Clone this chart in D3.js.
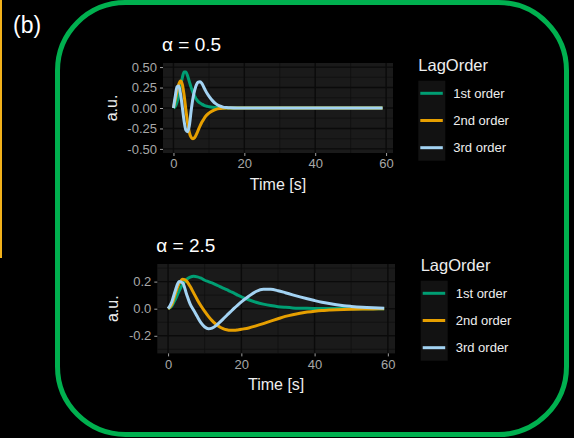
<!DOCTYPE html>
<html>
<head>
<meta charset="utf-8">
<script src="https://cdn.jsdelivr.net/npm/d3@7"></script>
<style>
  html, body { margin: 0; padding: 0; background: #000; }
  svg { display: block; }
  text { font-family: "Liberation Sans", Arial, sans-serif; }
</style>
</head>
<body>
<svg id="chart" width="574" height="438"></svg>
<script>
// ---------- DATA ----------
const seriesNames = ["1st order", "2nd order", "3rd order"];
const legendTitle = "LagOrder";
const panelTitles = ["α = 0.5", "α = 2.5"];
const xTicks = [0, 20, 40, 60];
const yTicksA = [-0.50, -0.25, 0.00, 0.25, 0.50];
const yTickLabelsA = ["-0.50", "-0.25", "0.00", "0.25", "0.50"];
const yTicksB = [-0.2, 0.0, 0.2];
const yTickLabelsB = ["-0.2", "0.0", "0.2"];

// alpha = 0.5
const timeA = [0,0.5,1,1.5,2,2.5,3,3.5,4,4.5,5,5.5,6,6.5,7,7.5,8,8.5,9,10,11,12,13,14,15,16,18,20,25,30,35,40,45,50,55,59];
const firstA = [0,0.02,0.07,0.16,0.26,0.37,0.44,0.44,0.39,0.32,0.25,0.19,0.145,0.105,0.078,0.06,0.048,0.036,0.027,0.016,0.009,0.005,0.0025,0.0012,0.0005,0.0002,0,0,0,0,0,0,0,0,0,0];
const secondA = [0,0.1,0.2,0.29,0.33,0.29,0.16,-0.02,-0.18,-0.3,-0.36,-0.375,-0.36,-0.32,-0.27,-0.22,-0.175,-0.14,-0.105,-0.063,-0.035,-0.017,-0.007,-0.003,-0.001,0,0,0,0,0,0,0,0,0,0,0];
const thirdA = [0,0.14,0.26,0.27,0.17,0.01,-0.16,-0.27,-0.29,-0.21,-0.03,0.12,0.22,0.285,0.315,0.32,0.3,0.26,0.215,0.145,0.09,0.05,0.025,0.011,0.005,0.002,0,0,0,0,0,0,0,0,0,0];

// alpha = 2.5
const timeB = [0,1,2,3,4,5,6,7,8,9,10,11,12,13,14,15,16,17,18,19,20,22,24,26,28,30,32,34,36,38,40,42,44,46,48,50,53,56,59];
const firstB = [0,0.02,0.07,0.13,0.18,0.215,0.233,0.24,0.235,0.225,0.21,0.2,0.19,0.178,0.165,0.152,0.14,0.127,0.115,0.1,0.088,0.066,0.048,0.034,0.023,0.015,0.01,0.006,0.004,0.003,0.002,0.0015,0.001,0.0008,0.0006,0.0005,0.0003,0.0002,0.0001];
const secondB = [0,0.03,0.113,0.185,0.218,0.205,0.165,0.115,0.065,0.02,-0.02,-0.057,-0.088,-0.113,-0.133,-0.147,-0.156,-0.16,-0.16,-0.157,-0.152,-0.142,-0.127,-0.11,-0.092,-0.074,-0.057,-0.044,-0.034,-0.025,-0.018,-0.013,-0.01,-0.007,-0.005,-0.004,-0.0025,-0.0015,-0.001];
const thirdB = [0,0.05,0.137,0.2,0.19,0.11,0.035,-0.012,-0.06,-0.105,-0.135,-0.148,-0.143,-0.127,-0.103,-0.077,-0.05,-0.024,0.002,0.027,0.05,0.092,0.127,0.144,0.143,0.133,0.118,0.102,0.087,0.073,0.06,0.048,0.038,0.029,0.022,0.017,0.011,0.007,0.004];

// ---------- STYLE ----------
const colors = ["#009E73", "#E69F00", "#A3D3F3"];
const FONT = '"Liberation Sans", Arial, sans-serif';

const svg = d3.select("#chart");

// left yellow rule (part of neighbouring figure)
svg.append("line").attr("x1", 1).attr("x2", 1).attr("y1", 0).attr("y2", 258)
  .attr("stroke", "#F2B21B").attr("stroke-width", 2);

// panel label
svg.append("text").attr("x", 13).attr("y", 33).attr("fill", "#fff")
  .attr("font-size", 23).text("(b)");

// green rounded frame
svg.append("rect").attr("x", 57.5).attr("y", 2.5).attr("width", 509).attr("height", 432)
  .attr("rx", 68).attr("ry", 68).attr("fill", "none")
  .attr("stroke", "#00B04F").attr("stroke-width", 5);

function drawPanel(cfg) {
  const g = svg.append("g");
  const x = d3.scaleLinear().domain([-2.95, 61.95]).range([cfg.left, cfg.left + cfg.width]);
  const y = d3.scaleLinear().domain(cfg.yDomain).range([cfg.top + cfg.height, cfg.top]);

  // background
  g.append("rect").attr("x", cfg.left).attr("y", cfg.top)
    .attr("width", cfg.width).attr("height", cfg.height).attr("fill", "#1a1a1a");

  // minor grid
  const xMinor = [10, 30, 50];
  g.selectAll(".xminor").data(xMinor).join("line")
    .attr("x1", d => x(d)).attr("x2", d => x(d))
    .attr("y1", cfg.top).attr("y2", cfg.top + cfg.height)
    .attr("stroke", "#0e0e0e").attr("stroke-width", 0.7);
  g.selectAll(".yminor").data(cfg.yMinor).join("line")
    .attr("y1", d => y(d)).attr("y2", d => y(d))
    .attr("x1", cfg.left).attr("x2", cfg.left + cfg.width)
    .attr("stroke", "#0e0e0e").attr("stroke-width", 0.7);
  // major grid
  g.selectAll(".xmajor").data(xTicks).join("line")
    .attr("x1", d => x(d)).attr("x2", d => x(d))
    .attr("y1", cfg.top).attr("y2", cfg.top + cfg.height)
    .attr("stroke", "#0a0a0a").attr("stroke-width", 1.4);
  g.selectAll(".ymajor").data(cfg.yTicks).join("line")
    .attr("y1", d => y(d)).attr("y2", d => y(d))
    .attr("x1", cfg.left).attr("x2", cfg.left + cfg.width)
    .attr("stroke", "#0a0a0a").attr("stroke-width", 1.4);

  // axes
  const xAxis = d3.axisBottom(x).tickValues(xTicks).tickSize(3).tickPadding(3).tickFormat(d3.format("d"));
  const xa = g.append("g").attr("transform", `translate(0,${cfg.top + cfg.height})`).call(xAxis);
  xa.select(".domain").remove();
  xa.selectAll("line").attr("stroke", "#a0a0a0").attr("stroke-width", 1);
  xa.selectAll("text").attr("fill", "#a8a8a8").attr("font-size", 13).attr("font-family", FONT);

  const yAxis = d3.axisLeft(y).tickValues(cfg.yTicks).tickSize(3).tickPadding(3)
    .tickFormat((d, i) => cfg.yLabels[i]);
  const ya = g.append("g").attr("transform", `translate(${cfg.left},0)`).call(yAxis);
  ya.select(".domain").remove();
  ya.selectAll("line").attr("stroke", "#a0a0a0").attr("stroke-width", 1);
  ya.selectAll("text").attr("fill", "#a8a8a8").attr("font-size", 13).attr("font-family", FONT);

  // lines
  const line = d3.line().x(d => x(d[0])).y(d => y(d[1])).curve(d3.curveMonotoneX);
  cfg.series.forEach((vals, i) => {
    const pts = cfg.time.map((t, j) => [t, vals[j]]);
    g.append("path").datum(pts).attr("d", line).attr("fill", "none")
      .attr("stroke", colors[i]).attr("stroke-width", 3);
  });

  // titles
  g.append("text").attr("x", cfg.left - 1).attr("y", cfg.top - 12).attr("fill", "#fff")
    .attr("font-size", 19).text(cfg.title);
  g.append("text").attr("x", cfg.left + cfg.width / 2).attr("y", cfg.top + cfg.height + 37)
    .attr("text-anchor", "middle").attr("fill", "#eee").attr("font-size", 16).text("Time [s]");
  g.append("text").attr("transform", `translate(${cfg.axisTitleX},${cfg.top + cfg.height / 2}) rotate(-90)`)
    .attr("text-anchor", "middle").attr("fill", "#eee").attr("font-size", 16).text("a.u.");

  // legend
  const L = cfg.legend;
  g.append("text").attr("x", L.x).attr("y", L.y).attr("fill", "#eee").attr("font-size", 16.5).text(legendTitle);
  g.append("rect").attr("x", L.x).attr("y", L.y + 10).attr("width", 27).attr("height", 80).attr("fill", "#121212");
  seriesNames.forEach((name, i) => {
    const ky = L.y + 22.6 + i * 27.2;
    g.append("line").attr("x1", L.x + 2).attr("x2", L.x + 24.5).attr("y1", ky).attr("y2", ky)
      .attr("stroke", colors[i]).attr("stroke-width", 3);
    g.append("text").attr("x", L.x + 35).attr("y", ky).attr("dy", "0.35em")
      .attr("fill", "#eee").attr("font-size", 13).text(name);
  });
}

drawPanel({
  left: 163, top: 63, width: 230, height: 90,
  yDomain: [-0.55, 0.55],
  yTicks: yTicksA, yLabels: yTickLabelsA,
  yMinor: [-0.375, -0.125, 0.125, 0.375],
  time: timeA, series: [firstA, secondA, thirdA],
  title: panelTitles[0],
  axisTitleX: 117,
  legend: { x: 418.3, y: 70.7 }
});

drawPanel({
  left: 157.3, top: 264, width: 237.7, height: 89.4,
  yDomain: [-0.33, 0.33],
  yTicks: yTicksB, yLabels: yTickLabelsB,
  yMinor: [-0.3, -0.1, 0.1, 0.3],
  time: timeB, series: [firstB, secondB, thirdB],
  title: panelTitles[1],
  axisTitleX: 118,
  legend: { x: 420.7, y: 270.7 }
});
</script>
</body>
</html>
